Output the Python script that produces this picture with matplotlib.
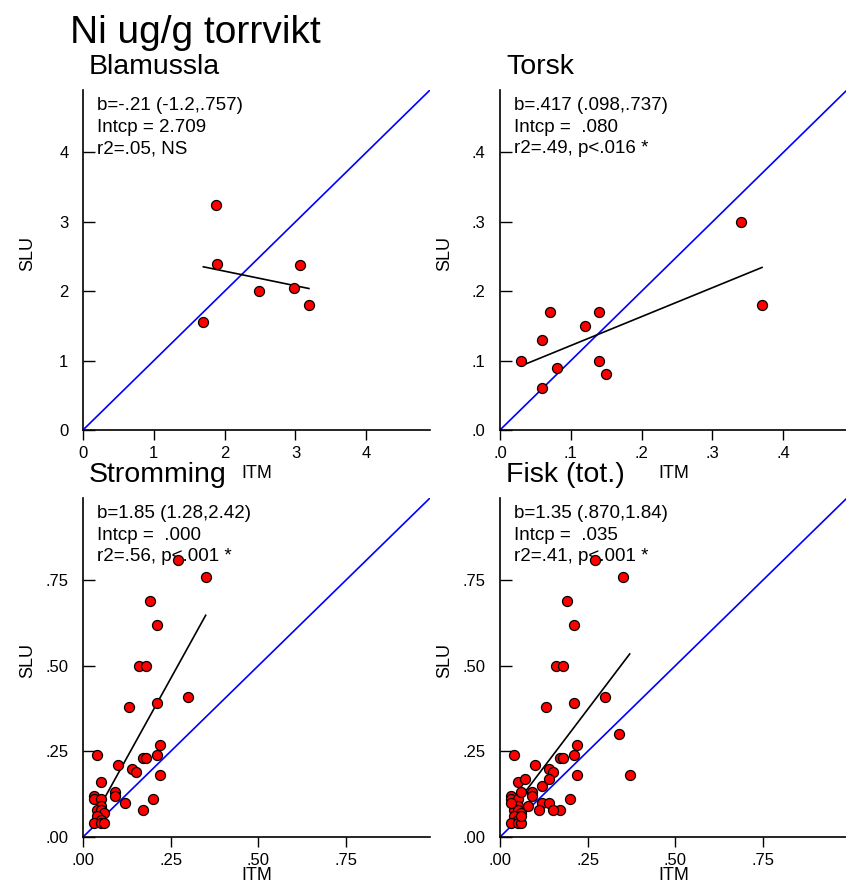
import matplotlib.pyplot as plt
from matplotlib.transforms import ScaledTranslation

plt.rcParams['font.family'] = ['Liberation Sans', 'DejaVu Sans']

W, H = 846, 886

# Blamussla
blam_itm = [1.70, 1.88, 1.89, 2.48, 2.98, 3.06, 3.19]
blam_slu = [1.55, 3.24, 2.39, 2.00, 2.05, 2.38, 1.80]

# Torsk
torsk_itm = [0.03, 0.06, 0.06, 0.07, 0.08, 0.12, 0.14, 0.14, 0.15, 0.34, 0.37]
torsk_slu = [0.10, 0.13, 0.06, 0.17, 0.09, 0.15, 0.17, 0.10, 0.08, 0.30, 0.18]

# Stromming
strom_itm = [0.27, 0.35, 0.19, 0.21, 0.16, 0.18, 0.30, 0.21, 0.13, 0.22,
             0.21, 0.04, 0.17, 0.18, 0.14, 0.15, 0.10, 0.22, 0.09, 0.09,
             0.20, 0.12, 0.17, 0.03, 0.03, 0.05, 0.05, 0.05, 0.04, 0.05,
             0.06, 0.04, 0.05, 0.03, 0.05, 0.06]
strom_slu = [0.81, 0.76, 0.69, 0.62, 0.50, 0.50, 0.41, 0.39, 0.38, 0.27,
             0.24, 0.24, 0.23, 0.23, 0.20, 0.19, 0.21, 0.18, 0.13, 0.12,
             0.11, 0.10, 0.08, 0.12, 0.11, 0.16, 0.11, 0.09, 0.08, 0.08,
             0.07, 0.06, 0.05, 0.04, 0.04, 0.04]

# other fish, only in the pooled set
ovr_itm = [0.11]
ovr_slu = [0.08]

fisk_itm = strom_itm + torsk_itm + ovr_itm
fisk_slu = strom_slu + torsk_slu + ovr_slu

# regression results
blam_fit = (-0.21, 2.709)
torsk_fit = (0.417, 0.080)
strom_fit = (1.85, 0.000)
fisk_fit = (1.35, 0.035)

blam_txt = ['b=-.21 (-1.2,.757)', 'Intcp = 2.709', 'r2=.05, NS']
torsk_txt = ['b=.417 (.098,.737)', 'Intcp =  .080', 'r2=.49, p<.016 *']
strom_txt = ['b=1.85 (1.28,2.42)', 'Intcp =  .000', 'r2=.56, p<.001 *']
fisk_txt = ['b=1.35 (.870,1.84)', 'Intcp =  .035', 'r2=.41, p<.001 *']

ticks_int = [0, 1, 2, 3, 4]
labels_int = ['0', '1', '2', '3', '4']
ticks_tenth = [0.0, 0.1, 0.2, 0.3, 0.4]
labels_tenth = ['.0', '.1', '.2', '.3', '.4']
ticks_quarter = [0.0, 0.25, 0.50, 0.75]
labels_quarter = ['.00', '.25', '.50', '.75']

panels = [
    # name, x, y, fit, text, limit, ticks, labels, rect px (left, top, bottom),
    # xtick label shift, xlabel offset px
    ('Blamussla', blam_itm, blam_slu, blam_fit, blam_txt, 4.9,
     ticks_int, labels_int, (83, 90, 430), -4, 43),
    ('Torsk', torsk_itm, torsk_slu, torsk_fit, torsk_txt, 0.49,
     ticks_tenth, labels_tenth, (500, 90, 430), -4, 43),
    ('Stromming', strom_itm, strom_slu, strom_fit, strom_txt, 0.99,
     ticks_quarter, labels_quarter, (83, 498, 837), 3, 39),
    ('Fisk (tot.)', fisk_itm, fisk_slu, fisk_fit, fisk_txt, 0.99,
     ticks_quarter, labels_quarter, (500, 498, 837), 3, 39),
]

fig = plt.figure(figsize=(W / 100, H / 100), dpi=100)
fig.text(70 / W, 1 - 43 / H, 'Ni ug/g torrvikt', fontsize=28, va='baseline')

for name, x, y, fit, txt, lim, ticks, labels, (lpx, tpx, bpx), shift, xlab in panels:
    ax = fig.add_axes([lpx / W, 1 - bpx / H, 347 / W, (bpx - tpx) / H])
    ax.set_xlim(0, lim)
    ax.set_ylim(0, lim)

    # line of equality
    ax.plot([0, lim], [0, lim], color='#0000ff', lw=1.2, zorder=2)

    b, a = fit
    x0, x1 = min(x), max(x)
    ax.plot([x0, x1], [a + b * x0, a + b * x1], color='black', lw=1.2, zorder=2)

    ax.scatter(x, y, s=52, c='#ff0000', edgecolors='black', linewidths=0.9,
               zorder=3, clip_on=False)

    for i, line in enumerate(txt):
        ax.annotate(line, xy=(0, 1), xycoords='axes fraction',
                    xytext=(14, -20 - i * 21.7), textcoords='offset pixels',
                    fontsize=13.5, ha='left', va='baseline', zorder=1)

    ax.set_xticks(ticks)
    ax.set_xticklabels(labels)
    ax.set_yticks(ticks)
    ax.set_yticklabels(labels)
    for lab in ax.get_xticklabels():
        lab.set_transform(lab.get_transform() +
                          ScaledTranslation(shift / 100, 0, fig.dpi_scale_trans))

    ax.spines['top'].set_visible(False)
    ax.spines['right'].set_visible(False)
    for s in ('left', 'bottom'):
        ax.spines[s].set_linewidth(1.2)
    ax.tick_params(axis='y', direction='in', length=8.4, width=1.0, pad=10.5,
                   labelsize=12)
    ax.tick_params(axis='x', direction='out', length=7, width=1.0, pad=4.8,
                   labelsize=12)

    ax.set_xlabel('ITM', fontsize=13, va='center')
    ax.xaxis.set_label_coords(0.5, -xlab / (bpx - tpx))
    ax.set_ylabel('SLU', fontsize=13, va='center')
    ax.yaxis.set_label_coords(-55 / 347, 0.52)

    fig.text((lpx + 6) / W, 1 - (tpx - 16) / H, name, fontsize=20.5,
             va='baseline')

fig.savefig('out.png', dpi=100)
